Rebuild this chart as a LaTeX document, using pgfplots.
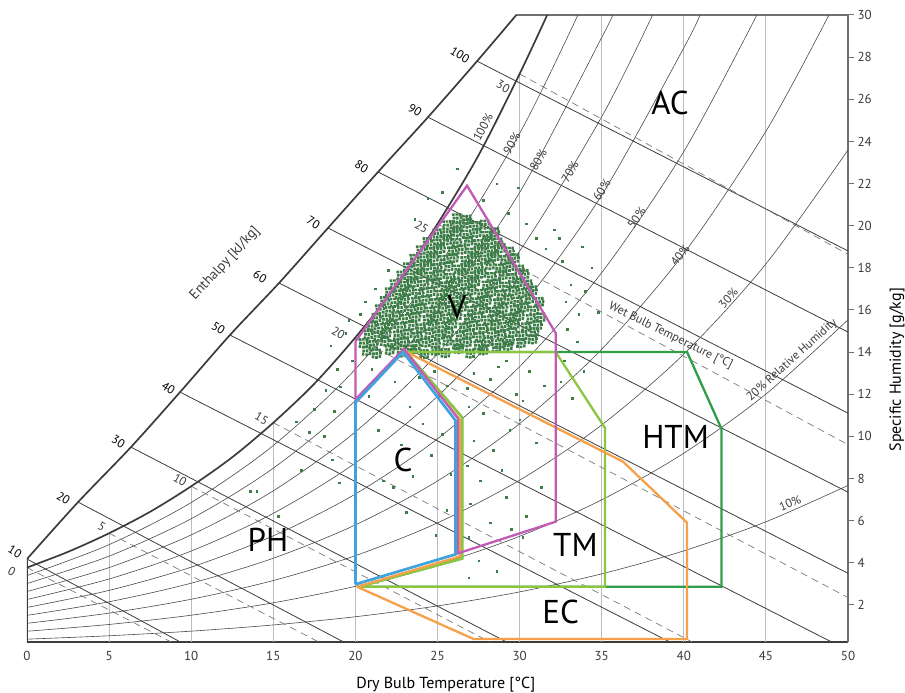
\documentclass[border=0pt]{standalone}
\usepackage{fontspec}
\setmainfont{PT Sans}
\usepackage{pgfplots}
\pgfplotsset{compat=1.18}
\usetikzlibrary{calc}
\definecolor{linegray}{HTML}{3C3C3C}
\definecolor{axgray}{HTML}{707070}
\definecolor{textgray}{HTML}{3A3A3A}
\definecolor{gridgray}{HTML}{BDBDBD}
\definecolor{rhgray}{HTML}{4A4A4A}
\definecolor{wbgray}{HTML}{7A7A7A}
\definecolor{dotgreen}{HTML}{3D7D47}
\definecolor{zV}{HTML}{C25BB5}
\definecolor{zC}{HTML}{3FA3DD}
\definecolor{zEC}{HTML}{F7A04A}
\definecolor{zTM}{HTML}{8CC63F}
\definecolor{zHTM}{HTML}{2E9E4A}
\pgfdeclareplotmark{speck}{%
 \pgfpathrectangle{\pgfpoint{-5.0pt}{-4.6pt}}{\pgfpoint{2.6pt}{2.9pt}}%
 \pgfpathrectangle{\pgfpoint{-1.6pt}{-5.0pt}}{\pgfpoint{2.8pt}{2.7pt}}%
 \pgfpathrectangle{\pgfpoint{1.9pt}{-4.2pt}}{\pgfpoint{2.6pt}{3.0pt}}%
 \pgfpathrectangle{\pgfpoint{-4.5pt}{-1.1pt}}{\pgfpoint{2.8pt}{2.6pt}}%
 \pgfpathrectangle{\pgfpoint{-1.0pt}{-1.4pt}}{\pgfpoint{2.5pt}{3.1pt}}%
 \pgfpathrectangle{\pgfpoint{2.5pt}{-0.6pt}}{\pgfpoint{2.6pt}{2.6pt}}%
 \pgfpathrectangle{\pgfpoint{-5.1pt}{2.3pt}}{\pgfpoint{2.6pt}{2.7pt}}%
 \pgfpathrectangle{\pgfpoint{-1.8pt}{2.6pt}}{\pgfpoint{2.9pt}{2.4pt}}%
 \pgfpathrectangle{\pgfpoint{1.7pt}{2.2pt}}{\pgfpoint{2.5pt}{3.0pt}}%
 \pgfusepathqfill}
\tikzset{
 rh/.style={draw=rhgray, line width=0.6pt, smooth},
 hl/.style={draw=linegray, line width=0.8pt},
 wb/.style={draw=wbgray, line width=0.7pt, dash pattern=on 7pt off 5pt},
 vg/.style={draw=gridgray, line width=0.9pt},
 zone/.style={line width=2.3pt, line join=miter},
 small/.style={font=\fontsize{12}{12}\selectfont, text=textgray},
 big/.style={font=\fontsize{33}{33}\selectfont, text=black},
}
\begin{document}
\begin{tikzpicture}
\path[use as bounding box] (-27pt,-51pt) rectangle (878pt,642pt);
\begin{axis}[
  at={(0pt,0pt)}, anchor=south west,
  scale only axis, width=821pt, height=627pt,
  xmin=0, xmax=50, ymin=0.24, ymax=30,
  enlargelimits=false,
  axis x line=bottom, axis y line=right,
  x axis line style={-, draw=linegray, line width=1.6pt},
  y axis line style={-, draw=axgray, line width=1.2pt},
  xtick={0,5,...,50}, ytick={2,4,...,30},
  xtick style={draw=none},
  ytick style={draw=axgray, line width=1pt},
  tick align=outside, major tick length=6pt,
  xticklabel style={font=\fontsize{13}{13}\selectfont, text=textgray},
  yticklabel style={font=\fontsize{13}{13}\selectfont, text=textgray},
  /pgf/number format/assume math mode=true,
  clip mode=individual,
]
% vertical temperature grid lines
\addplot[vg] coordinates {(5,0.24) (5,5.40)};
\addplot[vg] coordinates {(10,0.24) (10,7.63)};
\addplot[vg] coordinates {(15,0.24) (15,10.65)};
\addplot[vg] coordinates {(20,0.24) (20,14.70)};
\addplot[vg] coordinates {(25,0.24) (25,20.09)};
\addplot[vg] coordinates {(30,0.24) (30,27.20)};
\addplot[vg] coordinates {(35,0.24) (35,30)};
\addplot[vg] coordinates {(40,0.24) (40,30)};
\addplot[vg] coordinates {(45,0.24) (45,30)};
% frame pieces
\addplot[draw=axgray, line width=2pt] coordinates {(29.8,30) (50,30)};
\addplot[draw=linegray, line width=3pt] coordinates {(0,0.24) (0,4.18)};
% relative humidity curves
\addplot[rh] coordinates {(0,3.394) (5,4.859) (10,6.860) (15,9.568) (20,13.196) (25,18.021) (30,24.378) (33.55,30)};
\addplot[rh] coordinates {(0,3.015) (5,4.315) (10,6.091) (15,8.490) (20,11.702) (25,15.967) (30,21.575) (35,28.93) (35.66,30)};
\addplot[rh] coordinates {(0,2.636) (5,3.772) (10,5.323) (15,7.416) (20,10.215) (25,13.926) (30,18.797) (35,25.17) (38.1,30)};
\addplot[rh] coordinates {(0,2.258) (5,3.231) (10,4.557) (15,6.346) (20,8.736) (25,11.899) (30,16.042) (35,21.45) (40,28.44) (40.98,30)};
\addplot[rh] coordinates {(0,1.881) (5,2.690) (10,3.793) (15,5.279) (20,7.263) (25,9.885) (30,13.311) (35,17.771) (40,23.52) (44.45,30)};
\addplot[rh] coordinates {(0,1.504) (5,2.150) (10,3.031) (15,4.216) (20,5.797) (25,7.882) (30,10.604) (35,14.136) (40,18.678) (45,24.48) (48.84,30)};
\addplot[rh] coordinates {(0,1.127) (5,1.611) (10,2.270) (15,3.157) (20,4.338) (25,5.893) (30,7.919) (35,10.542) (40,13.904) (45,18.184) (50,23.595)};
\addplot[rh] coordinates {(0,0.751) (5,1.073) (10,1.511) (15,2.101) (20,2.885) (25,3.916) (30,5.257) (35,6.988) (40,9.201) (45,12.006) (50,15.534)};
\addplot[rh] coordinates {(0,0.375) (5,0.536) (10,0.755) (15,1.049) (20,1.439) (25,1.952) (30,2.617) (35,3.475) (40,4.566) (45,5.946) (50,7.671)};
% enthalpy lines
\addplot[hl] coordinates {(0,4.18) (9.34,0.24)};
\addplot[hl] coordinates {(3.11,6.88) (19.28,0.24)};
\addplot[hl] coordinates {(6.33,9.49) (29.21,0.24)};
\addplot[hl] coordinates {(9.32,12.10) (39.15,0.24)};
\addplot[hl] coordinates {(12.36,14.81) (49.0,0.24)};
\addplot[hl] coordinates {(15.35,17.28) (50,3.5)};
\addplot[hl] coordinates {(18.33,19.89) (50,7.35)};
\addplot[hl] coordinates {(21.38,22.55) (50,11.1)};
\addplot[hl] coordinates {(24.42,25.15) (50,14.95)};
\addplot[hl] coordinates {(27.41,27.81) (50,18.8)};
% wet bulb lines
\addplot[wb] coordinates {(0,3.773) (8.78,0.24)};
\addplot[wb] coordinates {(5,5.403) (17.77,0.24)};
\addplot[wb] coordinates {(10,7.632) (28.20,0.24)};
\addplot[wb] coordinates {(15,10.649) (40.51,0.24)};
\addplot[wb] coordinates {(20,14.697) (50,2.35)};
\addplot[wb] coordinates {(25,20.088) (50,9.61)};
\addplot[wb] coordinates {(30,27.205) (50,18.64)};
% saturation curve and enthalpy scale curve
\addplot[draw=linegray, line width=1.7pt, smooth] coordinates {(0,3.773) (2.5,4.520) (5,5.403) (7.5,6.422) (10,7.632) (12.5,9.010) (15,10.649) (17.5,12.499) (20,14.697) (22.5,17.159) (25,20.088) (27.5,23.342) (30,27.205) (31.68,30)};
\addplot[draw=linegray, line width=1.7pt, smooth] coordinates {(0,4.18) (3.11,6.88) (6.33,9.49) (9.32,12.10) (12.36,14.81) (15.35,17.28) (18.33,19.89) (21.38,22.55) (24.42,25.15) (27.41,27.81) (29.8,30)};
% measured conditions: dense core
\addplot[only marks, mark=speck, draw=dotgreen, fill=dotgreen] coordinates {
(20.7,14.05) (21.3,13.92) (22.1,14.10) (22.8,13.97) (23.4,14.12) (24.2,13.90) (24.9,14.06) (25.5,13.95) (26.3,14.14) (27.0,13.93) (27.8,14.08) (28.6,14.20) (29.3,14.30)
(20.5,14.42) (21.1,14.33) (21.8,14.50) (22.4,14.36) (23.0,14.47) (23.7,14.30) (24.3,14.45) (24.9,14.38) (25.6,14.52) (26.2,14.34) (26.8,14.46) (27.5,14.31) (28.1,14.49) (28.8,14.37) (29.4,14.55) (30.1,14.42) (30.8,14.60)
(20.8,14.83) (21.4,14.74) (21.9,14.90) (22.6,14.78) (23.2,14.86) (23.8,14.72) (24.5,14.88) (25.1,14.79) (25.7,14.93) (26.4,14.76) (27.0,14.85) (27.6,14.71) (28.3,14.89) (28.9,14.80) (29.6,14.92) (30.2,14.77) (30.9,14.95)
(21.0,15.23) (21.6,15.14) (22.2,15.30) (22.8,15.18) (23.5,15.26) (24.0,15.12) (24.7,15.28) (25.3,15.19) (25.9,15.33) (26.6,15.16) (27.2,15.25) (27.8,15.11) (28.5,15.29) (29.1,15.20) (29.7,15.32) (30.4,15.17) (31.1,15.27)
(21.3,15.62) (21.9,15.54) (22.5,15.70) (23.1,15.58) (23.7,15.66) (24.4,15.52) (25.0,15.68) (25.6,15.59) (26.2,15.73) (26.9,15.56) (27.5,15.65) (28.1,15.51) (28.8,15.69) (29.4,15.60) (30.0,15.72) (30.7,15.57) (31.3,15.64)
(21.5,16.03) (22.1,15.94) (22.8,16.10) (23.4,15.98) (24.0,16.06) (24.6,15.92) (25.3,16.08) (25.9,15.99) (26.5,16.13) (27.1,15.96) (27.8,16.05) (28.4,15.91) (29.0,16.09) (29.7,16.00) (30.3,16.12) (30.9,15.97)
(21.8,16.42) (22.4,16.34) (23.0,16.50) (23.7,16.38) (24.3,16.46) (24.9,16.32) (25.5,16.48) (26.2,16.39) (26.8,16.53) (27.4,16.36) (28.0,16.45) (28.7,16.31) (29.3,16.49) (29.9,16.40) (30.6,16.52) (31.2,16.37)
(22.1,16.83) (22.7,16.74) (23.3,16.90) (23.9,16.78) (24.6,16.86) (25.2,16.72) (25.8,16.88) (26.4,16.79) (27.1,16.93) (27.7,16.76) (28.3,16.85) (28.9,16.71) (29.6,16.89) (30.2,16.80) (30.8,16.92)
(22.4,17.22) (23.0,17.14) (23.6,17.30) (24.2,17.18) (24.9,17.26) (25.5,17.12) (26.1,17.28) (26.7,17.19) (27.3,17.33) (28.0,17.16) (28.6,17.25) (29.2,17.11) (29.9,17.29) (30.5,17.20)
(22.8,17.63) (23.4,17.54) (24.0,17.70) (24.6,17.58) (25.2,17.66) (25.8,17.52) (26.5,17.68) (27.1,17.59) (27.7,17.73) (28.3,17.56) (29.0,17.65) (29.6,17.51) (30.3,17.69)
(23.2,18.02) (23.8,17.94) (24.4,18.10) (25.0,17.98) (25.7,18.06) (26.3,17.92) (26.9,18.08) (27.5,17.99) (28.2,18.13) (28.8,17.96) (29.4,18.05) (30.0,17.91)
(23.6,18.42) (24.2,18.34) (24.8,18.50) (25.4,18.38) (26.0,18.46) (26.7,18.32) (27.3,18.48) (27.9,18.39) (28.5,18.53) (29.1,18.36) (29.7,18.45)
(24.0,18.83) (24.6,18.74) (25.2,18.90) (25.9,18.78) (26.5,18.86) (27.1,18.72) (27.7,18.88) (28.3,18.79) (28.9,18.93) (29.4,18.76)
(24.4,19.22) (25.0,19.14) (25.6,19.30) (26.2,19.18) (26.9,19.26) (27.5,19.12) (28.1,19.28) (28.7,19.19)
(25.0,19.62) (25.6,19.54) (26.2,19.70) (26.8,19.58) (27.4,19.66) (28.0,19.52) (28.5,19.68)
(25.6,20.02) (26.2,19.94) (26.8,20.10) (27.4,19.98) (27.9,20.05)
(26.2,20.35) (26.8,20.28)
};
% measured conditions: scattered points
\addplot[only marks, mark=square*, mark size=0.8pt, dotgreen, mark options={draw=none, fill=dotgreen}] coordinates {
(23.9,12.8) (25.15,11.9) (21.4,10.3) (24.1,10.6) (21.7,7.9) (25.8,8.2) (25.56,6.5) (22.3,7.6) (21.0,13.2) (22.4,12.6) (24.8,13.1) (23.3,11.4) (25.6,12.4) (22.8,9.6) (24.6,9.1) (23.5,8.1) (20.8,11.9) (25.3,10.1) (24.9,5.3) (23.1,6.4)
(27.2,13.0) (28.2,12.7) (29.2,13.6) (30.2,11.7) (26.9,11.4) (27.8,11.1) (29.4,10.3) (27.2,9.8) (28.4,9.35) (31.0,9.7) (27.6,7.9) (29.2,7.1) (30.4,6.2) (28.2,5.9) (26.8,12.3) (28.7,13.3) (30.6,13.1) (31.5,12.4) (30.0,10.8) (28.9,8.4) (31.3,7.6) (27.0,6.8) (26.8,8.6) (29.8,12.0) (31.7,10.6) (26.9,5.2) (28.0,4.9) (29.5,5.6)
(32.6,18.3) (33.1,17.2) (32.8,16.4) (33.6,15.8) (34.0,16.9) (32.9,15.1) (33.5,14.5) (34.4,18.0) (33.8,19.0) (32.4,19.4) (32.7,13.6) (33.9,13.1) (34.8,15.9) (32.5,12.6) (33.2,11.8)
(24.4,21.3) (27.8,21.2) (29.3,20.6) (30.4,20.1) (28.6,22.0) (31.0,19.4) (32.1,19.8) (26.2,22.7) (29.9,21.8) (25.3,21.6) (23.6,20.3) (31.6,18.9)
(19.4,14.9) (19.8,13.6) (18.9,13.2) (20.3,15.8) (19.6,15.5) (19.06,12.35) (20.6,16.4) (21.2,17.0) (22.0,17.9) (18.5,14.3)
(17.2,10.2) (16.4,10.7) (14.0,7.4) (13.6,7.4) (18.7,11.2) (17.5,11.3) (18.1,10.0) (16.7,8.4) (18.6,8.9) (15.3,6.2) (19.0,7.8) (18.2,12.2)
(27.5,4.1) (28.6,3.6) (26.9,3.3) (30.2,5.2)
};
% zones
\addplot[zone, draw=zHTM] coordinates {(20.2,2.86) (26.5,4.2) (26.5,10.9) (23.1,14.0) (40.2,14.0) (42.3,10.35) (42.3,2.86) (20.2,2.86)};
\addplot[zone, draw=zTM] coordinates {(20.2,2.86) (26.5,4.2) (26.5,10.9) (23.1,14.0) (32.2,14.0) (35.2,10.4) (35.2,2.86) (20.2,2.86)};
\addplot[zone, draw=zEC] coordinates {(20.1,2.86) (26.35,4.3) (26.35,10.8) (23.0,14.05) (36.3,8.8) (40.2,5.9) (40.2,0.38) (27.2,0.38) (20.1,2.86)};
\addplot[zone, draw=zV] coordinates {(20.0,14.5) (26.8,21.9) (32.2,14.9) (32.2,5.95) (26.25,4.45) (26.25,10.85) (22.95,14.15) (20.0,11.75) (20.0,14.5)};
\addplot[zone, draw=zC, line width=2.7pt] coordinates {(20.0,2.98) (20.0,11.6) (22.9,14.0) (26.1,10.75) (26.1,4.4) (20.0,2.98)};
% zone labels
\node[big] at (axis cs:39.16,25.82) {AC};
\node[big] at (axis cs:26.19,16.14) {V};
\node[big] at (axis cs:22.9,8.88) {C};
\node[big] at (axis cs:14.68,5.08) {PH};
\node[big] at (axis cs:33.4,4.84) {TM};
\node[big] at (axis cs:39.5,9.97) {HTM};
\node[big] at (axis cs:32.5,1.66) {EC};
% RH labels
\node[small, rotate=62] at (axis cs:27.77,24.68) {100\%};
\node[small, rotate=60] at (axis cs:29.52,23.9) {90\%};
\node[small, rotate=60] at (axis cs:31.14,23.11) {80\%};
\node[small, rotate=60] at (axis cs:33.07,22.56) {70\%};
\node[small, rotate=58] at (axis cs:35.0,21.69) {60\%};
\node[small, rotate=55] at (axis cs:37.13,20.36) {50\%};
\node[small, rotate=52] at (axis cs:39.77,18.6) {40\%};
\node[small, rotate=48] at (axis cs:42.71,16.55) {30\%};
\node[font=\fontsize{12}{12}\selectfont, text=textgray, rotate=42] at (axis cs:46.6,13.62) {20\% Relative Humidity};
\node[small, rotate=22] at (axis cs:46.47,6.83) {10\%};
\node[font=\fontsize{12}{12}\selectfont, text=textgray, rotate=-26] at (axis cs:39.2,14.76) {Wet Bulb Temperature [°C]};
% wet bulb labels
\node[small, rotate=-30] at (axis cs:29.0,26.6) {30};
\node[small, rotate=-30] at (axis cs:24.04,19.95) {25};
\node[small, rotate=-30] at (axis cs:18.96,14.89) {20};
\node[small, rotate=-30] at (axis cs:14.29,10.85) {15};
\node[small, rotate=-30] at (axis cs:9.32,7.93) {10};
\node[small, rotate=-30] at (axis cs:4.55,5.71) {5};
\node[small, rotate=-30] at (axis cs:-0.93,3.57) {0};
% enthalpy labels
\node[small, text=black, rotate=-32] at (axis cs:26.37,28.1) {100};
\node[small, text=black, rotate=-32] at (axis cs:23.63,25.49) {90};
\node[small, text=black, rotate=-32] at (axis cs:20.38,22.8) {80};
\node[small, text=black, rotate=-32] at (axis cs:17.44,20.14) {70};
\node[small, text=black, rotate=-32] at (axis cs:14.19,17.58) {60};
\node[small, text=black, rotate=-32] at (axis cs:11.65,15.13) {50};
\node[small, text=black, rotate=-32] at (axis cs:8.61,12.28) {40};
\node[small, text=black, rotate=-32] at (axis cs:5.56,9.74) {30};
\node[small, text=black, rotate=-32] at (axis cs:2.21,7.06) {20};
\node[small, text=black, rotate=-32] at (axis cs:-0.73,4.52) {10};
\node[font=\fontsize{14}{14}\selectfont, text=textgray, rotate=47] at (axis cs:12.06,18.21) {Enthalpy [kJ/kg]};
% axis titles
\node[font=\fontsize{16}{16}\selectfont, text=black] at ($(axis cs:25.5,0.24)+(0,-38pt)$) {Dry Bulb Temperature [°C]};
\node[font=\fontsize{16}{16}\selectfont, text=black, rotate=90] at ($(axis cs:50,13.4)+(49pt,0)$) {Specific Humidity [g/kg]};
\end{axis}
\end{tikzpicture}
\end{document}
